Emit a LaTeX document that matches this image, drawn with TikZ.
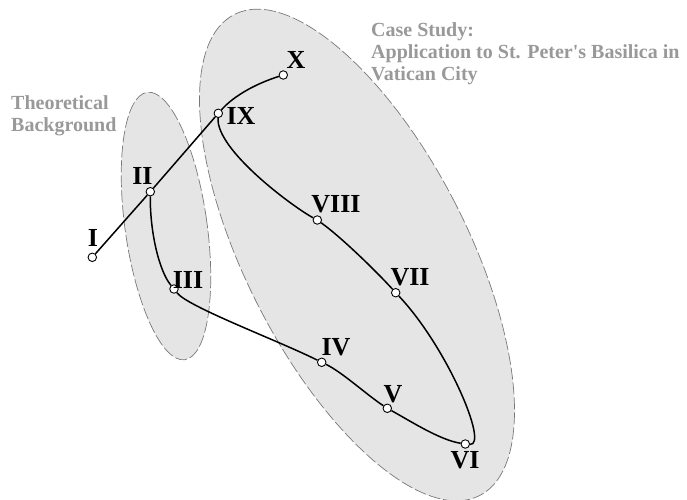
\documentclass[tikz,border=0pt]{standalone}
\usepackage{fontspec}
\setmainfont{Liberation Serif}
\definecolor{regionfill}{RGB}{229,229,229}
\definecolor{regionline}{RGB}{120,120,120}
\definecolor{grouptext}{RGB}{153,153,153}
\begin{document}
\begin{tikzpicture}[x=1pt,y=-1pt,
  region/.style={fill=regionfill, draw=regionline, line width=0.7pt, dash pattern=on 12pt off 3pt},
  trail/.style={line width=1.5pt, draw=black},
  station/.style={circle, draw=black, fill=white, line width=0.9pt, minimum size=8.5pt, inner sep=0pt},
  numlabel/.style={font=\fontsize{26}{26}\selectfont\bfseries, inner sep=0pt},
  grouplabel/.style={font=\fontsize{20}{22}\selectfont\bfseries, text=grouptext, align=left, inner sep=0pt, anchor=north west}]
\useasboundingbox (0,0) rectangle (687,499);

% regions
\path[region, rotate around={8:(166,226)}] (166,226) ellipse [x radius=41pt, y radius=135pt];
\path[region, rotate around={27:(357,255)}] (357,255) ellipse [x radius=111pt, y radius=270pt];

% stations
\node[station] (n1) at (92.3,257.3) {};
\node[station] (n2) at (150.3,191.7) {};
\node[station] (n3) at (174,289) {};
\node[station] (n4) at (321.7,362.3) {};
\node[station] (n5) at (387.3,408.3) {};
\node[station] (n6) at (465.3,444) {};
\node[station] (n7) at (395.7,292.7) {};
\node[station] (n8) at (317.3,220) {};
\node[station] (n9) at (218.3,113.3) {};
\node[station] (n10) at (283.3,75) {};

% connectors
\draw[trail] (n1) -- (n2);
\draw[trail] (n2) -- (n9);
\draw[trail] (n9) .. controls (235,94.6) and (258,83) .. (n10);
\draw[trail] (n2) .. controls (150,232) and (159,271) .. (n3);
\draw[trail] (n3) .. controls (188,307) and (277,340) .. (n4);
\draw[trail] (n4) .. controls (342,372) and (367,395) .. (n5);
\draw[trail] (n5) .. controls (412,422) and (440,440) .. (n6);
\draw[trail] (n6) .. controls (489,446) and (447,347) .. (n7);
\draw[trail] (n7) .. controls (376,271) and (341,237) .. (n8);
\draw[trail] (n8) .. controls (293,207) and (216,150) .. (n9);

% labels
\node[numlabel] (l1) at (93,238) {I};
\node[numlabel] (l2) at (142.5,176) {II};
\node[numlabel] (l3) at (188,280) {III};
\node[numlabel] (l4) at (336,347) {IV};
\node[numlabel] (l5) at (393,394) {V};
\node[numlabel] (l6) at (465,460) {VI};
\node[numlabel] (l7) at (410,277) {VII};
\node[numlabel] (l8) at (336,204) {VIII};
\node[numlabel] (l9) at (241,116) {IX};
\node[numlabel] (l10) at (296,60) {X};

\node[grouplabel] (tb) at (11,95) {Theoretical\\Background};
\node[grouplabel] (cs) at (371,22.5) {Case Study:\\Application to St. Peter\textquotesingle s Basilica in\\Vatican City};
\end{tikzpicture}
\end{document}
